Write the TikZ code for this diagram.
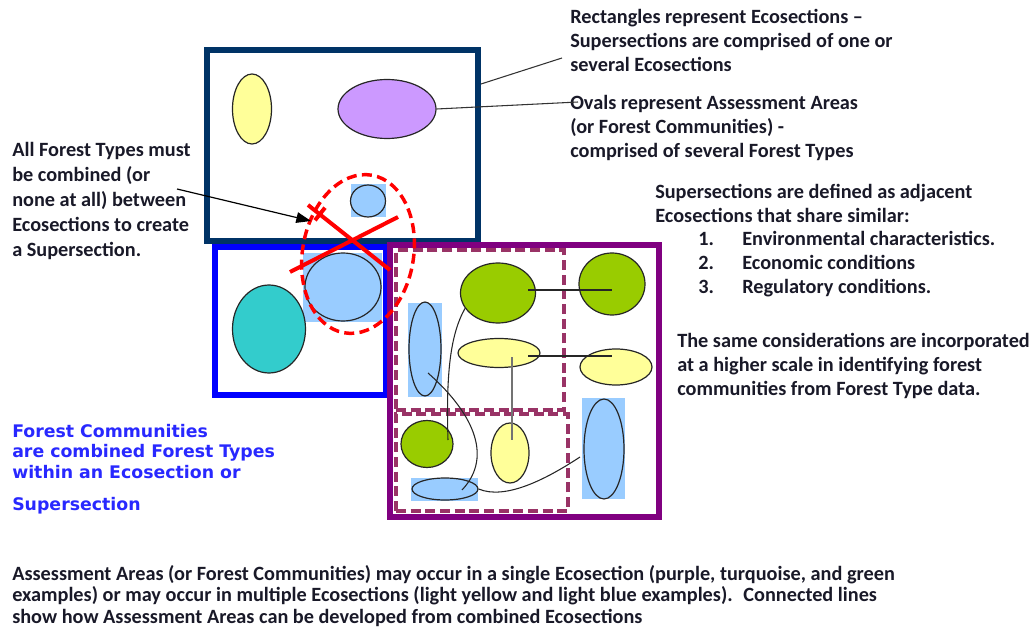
\documentclass[tikz,border=0pt]{standalone}
\usepackage{fontspec}
\setmainfont{Carlito}
\newfontfamily\bluefont{DejaVu Sans}
\usetikzlibrary{shapes.geometric, arrows.meta}
\definecolor{navy}{RGB}{0,51,102}
\definecolor{ecoblue}{RGB}{0,0,255}
\definecolor{superpurple}{RGB}{128,0,128}
\definecolor{zonered}{RGB}{153,51,102}
\definecolor{ltblue}{RGB}{153,204,255}
\definecolor{ltyellow}{RGB}{255,255,153}
\definecolor{leaf}{RGB}{153,204,0}
\definecolor{turq}{RGB}{51,204,204}
\definecolor{lavender}{RGB}{204,153,255}
\definecolor{txt}{RGB}{25,25,40}
\definecolor{bluetxt}{RGB}{40,40,255}
\tikzset{
    eco/.style 2 args={rectangle, draw, line width=4.5pt, inner sep=0pt,
        minimum width=#1*0.75pt, minimum height=#2*0.75pt},
    zone/.style 2 args={rectangle, draw=zonered, line width=3pt,
        dash pattern=on 7.5pt off 3.5pt, inner sep=0pt,
        minimum width=#1*0.75pt, minimum height=#2*0.75pt},
    patch/.style 2 args={rectangle, fill=ltblue, inner sep=0pt,
        minimum width=#1*0.75pt, minimum height=#2*0.75pt},
    area/.style 2 args={ellipse, draw=black!85, line width=0.9pt, inner sep=0pt,
        minimum width=#1*0.75pt, minimum height=#2*0.75pt},
    link/.style={draw=black!85, line width=0.8pt},
    lead/.style={draw=black!80, line width=0.8pt},
    cross/.style={draw=red, line width=3pt},
    % anchored on the baseline of the last line
    note/.style={font=\fontsize{15.2}{#1}\selectfont\bfseries, text=txt,
        align=left, inner sep=0pt, anchor=base west},
    note/.default=18,
    bluenote/.style={font=\bluefont\fontsize{13}{15.4}\selectfont\bfseries,
        text=bluetxt, align=left, inner sep=0pt, anchor=base west},
    foot/.style={font=\fontsize{15.2}{16.1}\selectfont\bfseries, text=txt,
        align=left, inner sep=0pt, anchor=base west}
}

\begin{document}
\begin{tikzpicture}[x=0.75pt, y=-0.75pt]
  \useasboundingbox (0,0) rectangle (1036,631);

  % ecosections and the supersection
  \node (ecoA) [eco={271}{191}, draw=navy] at (342.5, 145.5) {};
  \node (ecoB) [eco={171}{148}, draw=ecoblue] at (300.5, 321) {};
  \node (ecoC) [eco={269}{272}, draw=superpurple, line width=5pt] at (524.5, 381) {};
  \node (zoneA) [zone={168}{160}] at (480, 330) {};
  \node (zoneB) [zone={172}{97}] at (482, 462.5) {};

  % light blue patches behind some ovals
  \node (pA) [patch={35}{33}] at (368.5, 200.5) {};
  \node (pB) [patch={79}{69}] at (342.5, 287.5) {};
  \node (pC) [patch={34}{94}] at (425, 350) {};
  \node (pD) [patch={67}{23}] at (444.5, 489.5) {};
  \node (pE) [patch={43}{101}] at (603.5, 448.5) {};

  % assessment areas
  \node (ylA) [area={39}{70}, fill=ltyellow] at (252, 109) {};
  \node (lvA) [area={98}{59}, fill=lavender] at (387, 109) {};
  \node (blA) [area={35}{32}, fill=ltblue] at (368, 201) {};
  \node (tqB) [area={73}{88}, fill=turq] at (269, 329) {};
  \node (blB) [area={76}{68}, fill=ltblue] at (343, 287) {};
  \node (grC) [area={75}{60}, fill=leaf] at (498, 293) {};
  \node (grD) [area={66}{62}, fill=leaf] at (612, 284) {};
  \node (ylC) [area={82}{29}, fill=ltyellow] at (499, 353) {};
  \node (ylD) [area={72}{36}, fill=ltyellow] at (616, 367) {};
  \node (blC) [area={32}{94}, fill=ltblue] at (425, 349) {};
  \node (grE) [area={52}{47}, fill=leaf] at (427, 444) {};
  \node (ylE) [area={38}{60}, fill=ltyellow] at (510, 453) {};
  \node (blE) [area={66}{22}, fill=ltblue] at (445, 489) {};
  \node (blD) [area={40}{100}, fill=ltblue] at (604, 449) {};

  \coordinate (grCin) at (528, 290);
  \coordinate (grDin) at (612, 290);
  \coordinate (ylCin) at (528, 356);
  \coordinate (ylDin) at (612, 356);
  \coordinate (ylCmid) at (512, 357);
  \coordinate (ylEin) at (512, 440);
  \coordinate (grEin) at (448, 440);
  \coordinate (blCin) at (428, 373);
  \coordinate (blEin) at (462, 490);
  \coordinate (blDout) at (580, 457);

  \draw [link] (grCin) -- (grDin);
  \draw [link] (ylCin) -- (ylDin);
  \draw [link, draw=black!55] (ylCmid) -- (ylEin);
  \draw [link] (grC.205) .. controls (450, 335) and (446, 375) .. (grEin);
  \draw [link] (blCin) .. controls (470, 410) and (495, 455) .. (blEin);
  \draw [link] (blE.east) .. controls (505, 500) and (545, 480) .. (blDout);

  % crossed out merge
  \node (ring) [ellipse, draw=red, line width=2.6pt, dash pattern=on 7.5pt off 4pt,
      inner sep=0pt, minimum width=111*0.75pt, minimum height=160*0.75pt,
      rotate=-10] at (358, 254) {};
  \coordinate (xA1) at (308, 205);
  \coordinate (xA2) at (390, 270);
  \coordinate (xB1) at (290, 272);
  \coordinate (xB2) at (398, 217);
  \coordinate (barA) at (315, 220.3);
  \coordinate (barB) at (325, 207.7);
  \draw [cross] (xA1) -- (xA2);
  \draw [cross] (xB1) -- (xB2);
  \draw [cross] (barA) -- (barB);

  % notes
  \node (rectnote) [note] at (570, 72) {Rectangles represent Ecosections –\\Supersections are comprised of one or\\several Ecosections};
  \node (ovalnote) [note] at (570, 158) {Ovals represent Assessment Areas\\(or Forest Communities) -\\comprised of several Forest Types};
  \node (mergenote) [note=18.75] at (12, 257) {All Forest Types must\\be combined (or\\none at all) between\\Ecosections to create\\a Supersection.};
  \node (supernote) [note] at (655, 294) {Supersections are defined as adjacent\\Ecosections that share similar:\\
      \hspace*{32.25pt}\makebox[33pt][l]{1.}Environmental characteristics.\\
      \hspace*{32.25pt}\makebox[33pt][l]{2.}Economic conditions\\
      \hspace*{32.25pt}\makebox[33pt][l]{3.}Regulatory conditions.};
  \node (scalenote) [note] at (677, 395) {The same considerations are incorporated\\at a higher scale in identifying forest\\communities from Forest Type data.};
  \node (fcnote) [bluenote] at (12, 510) {Forest Communities\\are combined Forest Types\\within an Ecosection or\\[8.5pt]Supersection};
  \node (footnote) [foot] at (12, 623) {Assessment Areas (or Forest Communities) may occur in a single Ecosection (purple, turquoise, and green\\examples) or may occur in multiple Ecosections (light yellow and light blue examples).~ Connected lines\\show how Assessment Areas can be developed from combined Ecosections};

  % pointers
  \coordinate (ptr) at (177, 189);
  \coordinate (ptrtip) at (311, 221);
  \draw [-{Triangle[length=11pt, width=8pt]}, line width=0.9pt] (ptr) -- (ptrtip);
  \coordinate (ldA) at (481, 84);
  \coordinate (ldAend) at (562, 58);
  \draw [lead] (ldA) -- (ldAend);
  \coordinate (ldBend) at (578, 102);
  \draw [lead] (lvA.east) -- (ldBend);
\end{tikzpicture}
\end{document}
